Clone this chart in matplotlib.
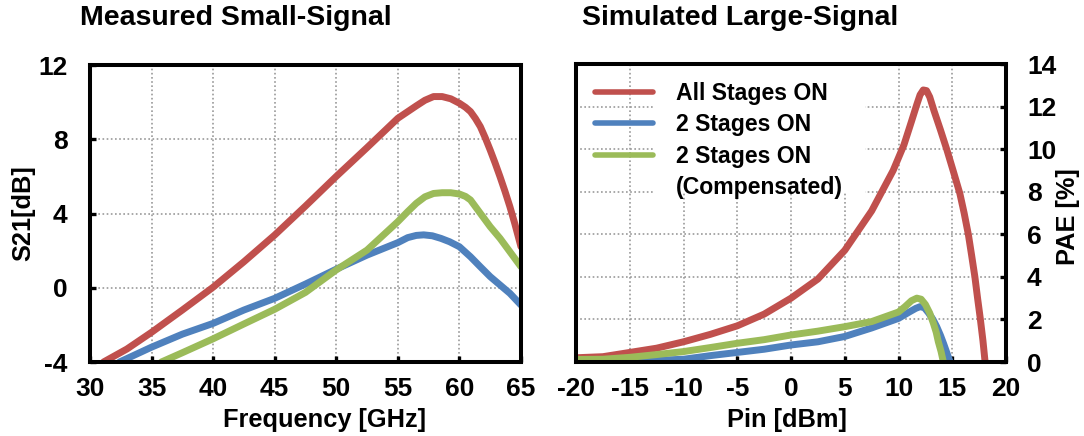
"""S21 (measured) and PAE (simulated) comparison for the stage-switching PA."""
import matplotlib
matplotlib.use("Agg")
import matplotlib.pyplot as plt
from matplotlib.lines import Line2D
from matplotlib.patches import Rectangle

plt.rcParams["font.family"] = ["Liberation Sans", "DejaVu Sans"]
plt.rcParams["font.weight"] = "bold"
plt.rcParams["axes.unicode_minus"] = False
FS_TITLE, FS_LABEL, FS_TICK, FS_LEG = 20.5, 18.3, 19, 16.6

RED, BLUE, GREEN = "#C0504D", "#4F81BD", "#9BBB59"

# ── small-signal S21 vs frequency ───────────────────────────────────────────
f_all = [31.1, 33, 35, 37.5, 40, 42.5, 45, 47.5, 50, 52.5, 55, 56.5, 57.2,
         57.9, 58.6, 59.3, 60, 60.5, 60.9, 61.3, 61.7, 62.1, 62.5, 62.9, 63.3,
         63.7, 64.1, 64.5, 65]
s21_all = [-4, -3.3, -2.4, -1.2, 0.03, 1.4, 2.84, 4.4, 6.0, 7.55, 9.13, 9.8,
           10.1, 10.3, 10.3, 10.18, 9.94, 9.72, 9.49, 9.12, 8.68, 8.08, 7.42,
           6.72, 5.98, 5.2, 4.37, 3.45, 2.21]

f_two = [32.4, 35, 37.5, 40, 42.5, 45, 47.5, 50, 52.5, 55, 55.8, 56.5, 57.1,
         57.8, 58.5, 59.2, 60, 60.9, 61.7, 62.5, 63.3, 64.1, 65]
s21_two = [-4, -3.2, -2.5, -1.92, -1.2, -0.57, 0.2, 1.0, 1.76, 2.43, 2.7,
           2.82, 2.85, 2.8, 2.66, 2.48, 2.21, 1.67, 1.13, 0.6, 0.15, -0.3,
           -0.93]

f_comp = [35.8, 37.5, 40, 42.5, 45, 47.5, 50, 52.5, 55, 55.8, 56.5, 57.2,
          57.9, 58.6, 59.3, 60, 60.5, 60.9, 61.7, 62.5, 63.3, 64.1, 65]
s21_comp = [-4, -3.5, -2.75, -1.95, -1.16, -0.25, 0.96, 2.03, 3.56, 4.1,
            4.55, 4.9, 5.08, 5.12, 5.12, 5.05, 4.92, 4.73, 4.01, 3.29, 2.66,
            1.94, 1.13]

# ── large-signal PAE vs input power ─────────────────────────────────────────
pin_all = [-20, -17.5, -15, -12.5, -10, -7.5, -5, -2.5, 0, 2.5, 5, 7.5, 8.5,
           9.5, 10.5, 11.2, 11.7, 12.0, 12.3, 12.6, 12.9, 13.3, 13.9, 14.5,
           15.1, 15.7, 16.1, 16.5, 16.8, 17.1, 17.35, 17.6, 17.85, 18.05]
pae_all = [0.2, 0.25, 0.45, 0.65, 0.95, 1.3, 1.7, 2.25, 3.0, 3.9, 5.25, 7.1,
           8.05, 9.0, 10.2, 11.3, 12.1, 12.55, 12.78, 12.75, 12.45, 11.8,
           10.9, 9.96, 8.95, 7.92, 7.0, 5.97, 5.0, 4.0, 3.0, 2.05, 1.0, 0]

pin_two = [-20, -15, -12.5, -10, -7.5, -5, -2.5, 0, 2.5, 5, 7.5, 10, 11, 11.6,
           12.0, 12.4, 12.8, 13.2, 13.55, 13.9, 14.2, 14.5, 14.8]
pae_two = [0.05, 0.05, 0.08, 0.13, 0.3, 0.45, 0.6, 0.8, 0.95, 1.2, 1.6, 2.05,
           2.35, 2.52, 2.6, 2.55, 2.3, 2.0, 1.66, 1.25, 0.85, 0.42, 0]

pin_comp = [-20, -17.5, -15, -12.5, -10, -7.5, -5, -2.5, 0, 2.5, 5, 7.5, 10,
            10.6, 11.2, 11.7, 12.1, 12.5, 12.9, 13.24, 13.5, 13.7, 13.95,
            14.17]
pae_comp = [0.12, 0.13, 0.22, 0.35, 0.49, 0.68, 0.88, 1.05, 1.27, 1.45, 1.66,
            1.9, 2.35, 2.6, 2.88, 3.0, 2.95, 2.7, 2.3, 1.82, 1.4, 0.95, 0.5, 0]

labels = ["All Stages ON", "2 Stages ON", "2 Stages ON", "(Compensated)"]

fig = plt.figure(figsize=(10.84, 4.36), dpi=100)
ax1 = fig.add_axes([0.0830, 0.1697, 0.3976, 0.6812])
ax2 = fig.add_axes([0.5314, 0.1697, 0.3967, 0.6835])


def style(ax):
    ax.set_axisbelow(True)
    ax.grid(True, color="#999999", lw=1.2, ls=(0, (1, 1.5)))
    for sp in ax.spines.values():
        sp.set_linewidth(2.9)
    ax.tick_params(direction="in", length=4, width=2.4, labelsize=FS_TICK)
    for lab in ax.get_xticklabels() + ax.get_yticklabels():
        lab.set_fontweight("bold")


lw = 5.0
ax1.plot(f_all, s21_all, color=RED, lw=lw, solid_capstyle="round")
ax1.plot(f_two, s21_two, color=BLUE, lw=lw, solid_capstyle="round")
ax1.plot(f_comp, s21_comp, color=GREEN, lw=lw, solid_capstyle="round")
ax1.set_xlim(30, 65)
ax1.set_ylim(-4, 12)
ax1.set_xticks(range(30, 66, 5))
ax1.set_yticks(range(-4, 13, 4))
style(ax1)
ax1.tick_params(axis="x", pad=11)
ax1.tick_params(axis="y", pad=16)
ax1.set_xlabel("Frequency [GHz]", fontsize=FS_LABEL, fontweight="bold",
               va="center")
ax1.xaxis.set_label_coords(0.543, -0.195)
ax1.set_ylabel("S21[dB]", fontsize=FS_LABEL, fontweight="bold", va="center")
ax1.yaxis.set_label_coords(-0.155, 0.5)

ax2.plot(pin_all, pae_all, color=RED, lw=lw, solid_capstyle="round",
         label=labels[0])
ax2.plot(pin_two, pae_two, color=BLUE, lw=lw, solid_capstyle="round",
         label=labels[1])
ax2.plot(pin_comp, pae_comp, color=GREEN, lw=lw, solid_capstyle="round",
         label=labels[2])
ax2.set_xlim(-20, 20)
ax2.set_ylim(0, 14)
ax2.set_xticks(range(-20, 21, 5))
ax2.set_yticks(range(0, 15, 2))
ax2.yaxis.tick_right()
ax2.yaxis.set_label_position("right")
style(ax2)
ax2.tick_params(axis="x", pad=11)
ax2.tick_params(axis="y", pad=15)
ax2.set_xlabel("Pin [dBm]", fontsize=FS_LABEL, fontweight="bold",
               va="center")
ax2.xaxis.set_label_coords(0.49, -0.195)
ax2.set_ylabel("PAE [%]", fontsize=FS_LABEL, fontweight="bold", rotation=90,
               va="center")
ax2.yaxis.set_label_coords(1.144, 0.488)

# white block behind the legend text, grid stays visible around the handles
ax2.add_patch(Rectangle((0.184, 0.567), 0.488, 0.433, transform=ax2.transAxes,
                        facecolor="white", edgecolor="none", zorder=1))
handles, _ = ax2.get_legend_handles_labels()
handles.append(Line2D([], [], color="none"))
leg = ax2.legend(handles, labels, loc="upper left",
                 bbox_to_anchor=(0.044, 0.94), frameon=False,
                 prop=dict(size=FS_LEG, weight="bold"), handlelength=2.5,
                 handletextpad=1.0, labelspacing=0.37, borderpad=0,
                 borderaxespad=0)
for ln in leg.get_lines():
    ln.set_linewidth(4.0)

fig.text(80 / 1084, 1 - 18 / 436, "Measured Small-Signal", fontsize=FS_TITLE,
         fontweight="bold", ha="left", va="center")
fig.text(582 / 1084, 1 - 18 / 436, "Simulated Large-Signal",
         fontsize=FS_TITLE, fontweight="bold", ha="left", va="center")

fig.savefig("out.png", dpi=100)
